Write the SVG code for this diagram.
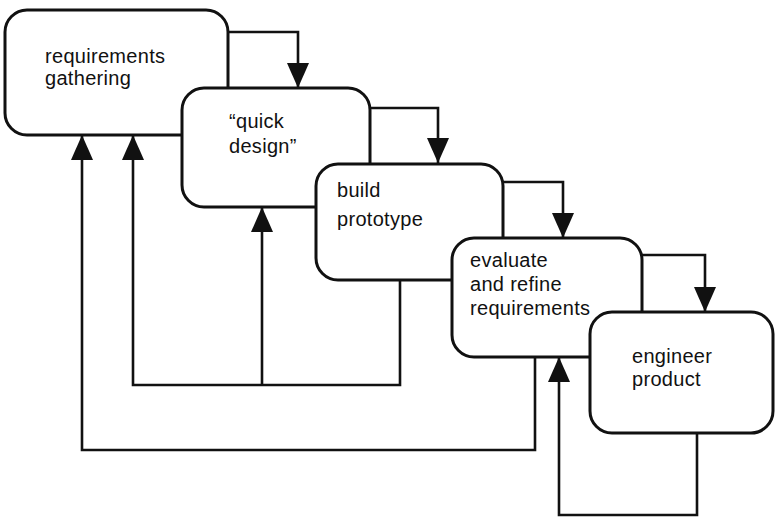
<svg xmlns="http://www.w3.org/2000/svg" width="775" height="518" viewBox="0 0 775 518">
<style>
.box{fill:#fff;stroke:#111;stroke-width:3}
.lbl{font-family:"Liberation Sans",Arial,sans-serif;font-size:20px;letter-spacing:0.3px;fill:#111}
.con{fill:none;stroke:#111;stroke-width:2.6}
</style>
<defs>
<marker id="ah" viewBox="0 0 25 22" refX="25" refY="11" markerWidth="25" markerHeight="22" markerUnits="userSpaceOnUse" orient="auto">
<path d="M0,0 L25,11 L0,22 Z" fill="#111"/>
</marker>
</defs>
<rect width="775" height="518" fill="#fff"/>
<g id="connectors">
<path class="con" d="M228,32 H298 V88" marker-end="url(#ah)"/>
<path class="con" d="M370,108 H438 V163" marker-end="url(#ah)"/>
<path class="con" d="M503,182 H563 V238" marker-end="url(#ah)"/>
<path class="con" d="M642,255 H705 V312" marker-end="url(#ah)"/>
<path class="con" d="M400,280 V385 H133 V135" marker-end="url(#ah)"/>
<path class="con" d="M262,385 V207" marker-end="url(#ah)"/>
<path class="con" d="M535,357 V450 H82 V135" marker-end="url(#ah)"/>
<path class="con" d="M697,433 V515 H559 V357" marker-end="url(#ah)"/>
</g>
<g id="requirements-gathering">
<rect class="box" x="5" y="10" width="223" height="125" rx="22"/>
<text class="lbl" x="45" y="63">requirements</text>
<text class="lbl" x="45" y="85">gathering</text>
</g>
<g id="quick-design">
<rect class="box" x="182" y="88" width="188" height="119" rx="22"/>
<text class="lbl" x="229" y="128">“quick</text>
<text class="lbl" x="229" y="153">design”</text>
</g>
<g id="build-prototype">
<rect class="box" x="316" y="164" width="187" height="116" rx="22"/>
<text class="lbl" x="337" y="197">build</text>
<text class="lbl" x="337" y="226">prototype</text>
</g>
<g id="evaluate-refine">
<rect class="box" x="452" y="238" width="190" height="119" rx="22"/>
<text class="lbl" x="470" y="267">evaluate</text>
<text class="lbl" x="470" y="291">and refine</text>
<text class="lbl" x="470" y="315">requirements</text>
</g>
<g id="engineer-product">
<rect class="box" x="590" y="312" width="183" height="121" rx="22"/>
<text class="lbl" x="632" y="363">engineer</text>
<text class="lbl" x="632" y="386">product</text>
</g>
</svg>
